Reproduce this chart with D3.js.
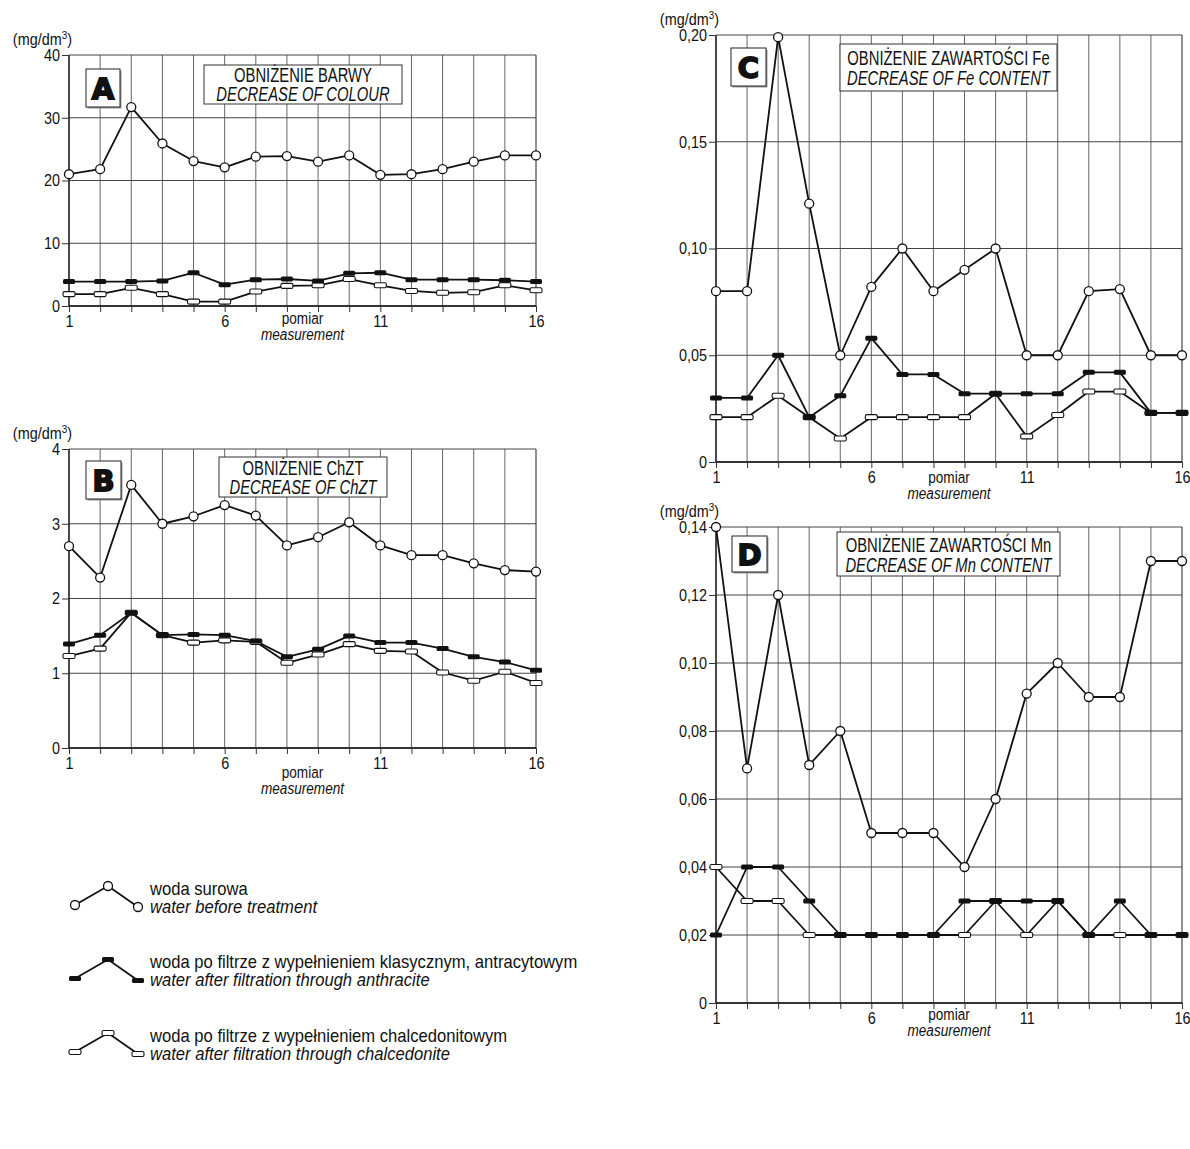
<!DOCTYPE html>
<html>
<head>
<meta charset="utf-8">
<title>Obniżenie zanieczyszczeń</title>
<script src="https://d3js.org/d3.v7.min.js"></script>
<style>
  body { margin: 0; background: #fff; }
  svg text { font-family: "Liberation Sans", Arial, sans-serif; fill: #111; }
</style>
</head>
<body>
<svg width="1190" height="1149"></svg>
<script>
const measurements = [1, 2, 3, 4, 5, 6, 7, 8, 9, 10, 11, 12, 13, 14, 15, 16];
const xTickLabels = [1, 6, 11, 16];

// A - barwa
const colourTicks = [0, 10, 20, 30, 40];
const colourRaw = [21.0, 21.8, 31.7, 25.9, 23.1, 22.1, 23.8, 23.9, 23.0, 24.0, 20.9, 21.0, 21.8, 23.0, 24.0, 24.0];
const colourAnthracite = [3.9, 3.9, 3.9, 4.0, 5.3, 3.4, 4.2, 4.3, 4.0, 5.2, 5.3, 4.2, 4.2, 4.2, 4.1, 3.9];
const colourChalcedonite = [1.9, 1.9, 2.9, 1.9, 0.7, 0.7, 2.3, 3.2, 3.3, 4.3, 3.3, 2.4, 2.1, 2.2, 3.3, 2.5];

// B - ChZT
const codTicks = [0, 1, 2, 3, 4];
const codRaw = [2.70, 2.28, 3.52, 3.00, 3.10, 3.25, 3.11, 2.71, 2.82, 3.02, 2.71, 2.58, 2.58, 2.47, 2.38, 2.36];
const codAnthracite = [1.39, 1.51, 1.81, 1.51, 1.52, 1.51, 1.43, 1.22, 1.32, 1.50, 1.41, 1.41, 1.33, 1.22, 1.15, 1.04];
const codChalcedonite = [1.23, 1.33, 1.81, 1.51, 1.41, 1.44, 1.42, 1.14, 1.25, 1.39, 1.30, 1.29, 1.01, 0.90, 1.02, 0.87];

// C - Fe
const feTicks = [0, 0.05, 0.10, 0.15, 0.20];
const feRaw = [0.080, 0.080, 0.199, 0.121, 0.050, 0.082, 0.100, 0.080, 0.090, 0.100, 0.050, 0.050, 0.080, 0.081, 0.050, 0.050];
const feAnthracite = [0.030, 0.030, 0.050, 0.021, 0.031, 0.058, 0.041, 0.041, 0.032, 0.032, 0.032, 0.032, 0.042, 0.042, 0.023, 0.023];
const feChalcedonite = [0.021, 0.021, 0.031, 0.021, 0.011, 0.021, 0.021, 0.021, 0.021, 0.032, 0.012, 0.022, 0.033, 0.033, 0.023, 0.023];

// D - Mn
const mnTicks = [0, 0.02, 0.04, 0.06, 0.08, 0.10, 0.12, 0.14];
const mnRaw = [0.140, 0.069, 0.120, 0.070, 0.080, 0.050, 0.050, 0.050, 0.040, 0.060, 0.091, 0.100, 0.090, 0.090, 0.130, 0.130];
const mnAnthracite = [0.02, 0.04, 0.04, 0.03, 0.02, 0.02, 0.02, 0.02, 0.03, 0.03, 0.03, 0.03, 0.02, 0.03, 0.02, 0.02];
const mnChalcedonite = [0.04, 0.03, 0.03, 0.02, 0.02, 0.02, 0.02, 0.02, 0.02, 0.03, 0.02, 0.03, 0.02, 0.02, 0.02, 0.02];

const legendPl = ["woda surowa", "woda po filtrze z wypełnieniem klasycznym, antracytowym", "woda po filtrze z wypełnieniem chalcedonitowym"];
const legendEn = ["water before treatment", "water after filtration through anthracite", "water after filtration through chalcedonite"];

const comma = d => d === 0 ? "0" : d3.format(".2f")(d).replace(".", ",");

const panels = [
  { letter: "A", pl: "OBNIŻENIE BARWY", en: "DECREASE OF COLOUR", ticks: colourTicks, fmt: d => d,
    raw: colourRaw, anth: colourAnthracite, chal: colourChalcedonite,
    x0: 69, x1: 536, y0: 55, y1: 306, lb: [86, 69, 34, 38], tb: [204, 65, 198, 39], tl: [82, 101], pd: 18, md: 34 },
  { letter: "B", pl: "OBNIŻENIE ChZT", en: "DECREASE OF ChZT", ticks: codTicks, fmt: d => d,
    raw: codRaw, anth: codAnthracite, chal: codChalcedonite,
    x0: 69, x1: 536, y0: 449, y1: 748, lb: [86, 461, 35, 38], tb: [219, 457, 168, 40], tl: [475, 494], pd: 30, md: 46 },
  { letter: "C", pl: "OBNIŻENIE ZAWARTOŚCI Fe", en: "DECREASE OF Fe CONTENT", ticks: feTicks, fmt: comma,
    raw: feRaw, anth: feAnthracite, chal: feChalcedonite,
    x0: 716, x1: 1182, y0: 35, y1: 462, lb: [731, 48, 35, 38], tb: [840, 44, 217, 47], tl: [65, 85], pd: 21, md: 37 },
  { letter: "D", pl: "OBNIŻENIE ZAWARTOŚCI Mn", en: "DECREASE OF Mn CONTENT", ticks: mnTicks, fmt: comma,
    raw: mnRaw, anth: mnAnthracite, chal: mnChalcedonite,
    x0: 716, x1: 1182, y0: 527, y1: 1003, lb: [732, 536, 35, 36], tb: [837, 532, 223, 44], tl: [552, 572], pd: 17, md: 33 }
];

const svg = d3.select("svg");

// squeeze text horizontally to imitate a condensed face
function narrow(sel, s) {
  sel.each(function () {
    const t = d3.select(this);
    const x = +t.attr("x") || 0;
    t.attr("x", x / s).attr("transform", `scale(${s},1)`);
  });
  return sel;
}

function drawMarker(sel, type) {
  if (type === "raw") {
    sel.append("circle").attr("r", 4.5).attr("fill", "#fff").attr("stroke", "#111").attr("stroke-width", 1.3);
  } else if (type === "anth") {
    sel.append("rect").attr("x", -6).attr("y", -2.5).attr("width", 12).attr("height", 5).attr("rx", 1.5)
      .attr("fill", "#111");
  } else {
    sel.append("rect").attr("x", -6).attr("y", -2.5).attr("width", 12).attr("height", 5).attr("rx", 1.5)
      .attr("fill", "#fff").attr("stroke", "#111").attr("stroke-width", 1.1);
  }
}

panels.forEach(p => {
  const g = svg.append("g");
  const x = d3.scaleLinear().domain([1, 16]).range([p.x0, p.x1]);
  const y = d3.scaleLinear().domain([0, d3.max(p.ticks)]).range([p.y1, p.y0]);

  // grid
  g.selectAll(".vg").data(measurements).enter().append("line")
    .attr("x1", d => x(d)).attr("x2", d => x(d)).attr("y1", p.y0).attr("y2", p.y1)
    .attr("stroke", d => d === 16 ? "#222" : "#666").attr("stroke-width", 1);
  g.selectAll(".hg").data(p.ticks).enter().append("line")
    .attr("x1", p.x0).attr("x2", p.x1).attr("y1", d => y(d)).attr("y2", d => y(d))
    .attr("stroke", "#444").attr("stroke-width", 1);

  // axes
  const ay = g.append("g").attr("transform", `translate(${p.x0},0)`)
    .call(d3.axisLeft(y).tickValues(p.ticks).tickSize(7).tickPadding(2).tickFormat(p.fmt));
  const ax = g.append("g").attr("transform", `translate(0,${p.y1})`)
    .call(d3.axisBottom(x).tickValues(measurements).tickSize(6).tickPadding(3)
      .tickFormat(d => xTickLabels.includes(d) ? d : ""));
  [ay, ax].forEach(a => {
    a.select(".domain").attr("stroke", "#111").attr("stroke-width", 1.3);
    a.selectAll(".tick line").attr("stroke", "#333");
    narrow(a.selectAll("text").style("font-size", "17px").attr("fill", "#111"), 0.85);
  });
  ax.select(".domain").attr("d", `M${p.x0},0H${p.x1}`);
  ay.select(".domain").attr("d", `M0,${p.y1}V${p.y0}`);

  // unit label
  const u = g.append("text").attr("x", p.x0 + 3).attr("y", p.y0 - 10)
    .attr("text-anchor", "end").style("font-size", "16px");
  u.append("tspan").text("(mg/dm");
  u.append("tspan").text("3").attr("dy", -6).style("font-size", "11px");
  u.append("tspan").text(")").attr("dy", 6);
  narrow(u, 0.9);

  // x label
  narrow(g.append("text").attr("x", x(8.5)).attr("y", p.y1 + p.pd).attr("text-anchor", "middle")
    .style("font-size", "17px").text("pomiar"), 0.8);
  narrow(g.append("text").attr("x", x(8.5)).attr("y", p.y1 + p.md).attr("text-anchor", "middle")
    .style("font-size", "17px").style("font-style", "italic").text("measurement"), 0.8);

  // letter box
  g.append("rect").attr("x", p.lb[0] + 1.5).attr("y", p.lb[1] + 1.5).attr("width", p.lb[2]).attr("height", p.lb[3])
    .attr("fill", "#999");
  g.append("rect").attr("x", p.lb[0]).attr("y", p.lb[1]).attr("width", p.lb[2]).attr("height", p.lb[3])
    .attr("fill", "#fff").attr("stroke", "#222").attr("stroke-width", 1);
  g.append("text").attr("x", p.lb[0] + p.lb[2] / 2).attr("y", p.lb[1] + p.lb[3] / 2 + 10.5)
    .attr("text-anchor", "middle")
    .style("font-family", "'DejaVu Sans', sans-serif").style("font-weight", "bold").style("font-size", "29px")
    .attr("stroke", "#111").attr("stroke-width", 1.8).text(p.letter);

  // title box
  g.append("rect").attr("x", p.tb[0]).attr("y", p.tb[1]).attr("width", p.tb[2]).attr("height", p.tb[3])
    .attr("fill", "#fff").attr("stroke", "#333").attr("stroke-width", 1);
  const cx = p.tb[0] + p.tb[2] / 2;
  narrow(g.append("text").attr("x", cx).attr("y", p.tl[0]).attr("text-anchor", "middle")
    .style("font-size", "19.5px").text(p.pl), 0.76);
  narrow(g.append("text").attr("x", cx).attr("y", p.tl[1]).attr("text-anchor", "middle")
    .style("font-size", "19.5px").style("font-style", "italic").text(p.en), 0.76);

  // series
  const line = d3.line().x((d, i) => x(measurements[i])).y(d => y(d));
  [["chal", p.chal], ["anth", p.anth], ["raw", p.raw]].forEach(([t, vals]) => {
    g.append("path").datum(vals).attr("d", line).attr("fill", "none")
      .attr("stroke", "#111").attr("stroke-width", 1.8).attr("stroke-linejoin", "round");
  });
  [["chal", p.chal], ["anth", p.anth], ["raw", p.raw]].forEach(([t, vals]) => {
    g.selectAll(".m-" + t).data(vals).enter().append("g")
      .attr("transform", (d, i) => `translate(${x(measurements[i])},${y(d)})`)
      .each(function () { drawMarker(d3.select(this), t); });
  });
});

// legend
const legendTypes = ["raw", "anth", "chal"];
legendTypes.forEach((t, i) => {
  const base = 895 + i * 73.5;
  const g = svg.append("g");
  const pts = [[75, base + 10], [108, base - 9], [138, base + 12]];
  g.append("path").attr("d", d3.line()(pts)).attr("fill", "none").attr("stroke", "#111").attr("stroke-width", 1.8);
  pts.forEach(pt => {
    const m = g.append("g").attr("transform", `translate(${pt[0]},${pt[1]})`);
    drawMarker(m, t);
  });
  narrow(g.append("text").attr("x", 150).attr("y", base).style("font-size", "17.5px").text(legendPl[i]), 0.95);
  narrow(g.append("text").attr("x", 150).attr("y", base + 18).style("font-size", "17.5px").style("font-style", "italic").text(legendEn[i]), 0.95);
});
</script>
</body>
</html>
